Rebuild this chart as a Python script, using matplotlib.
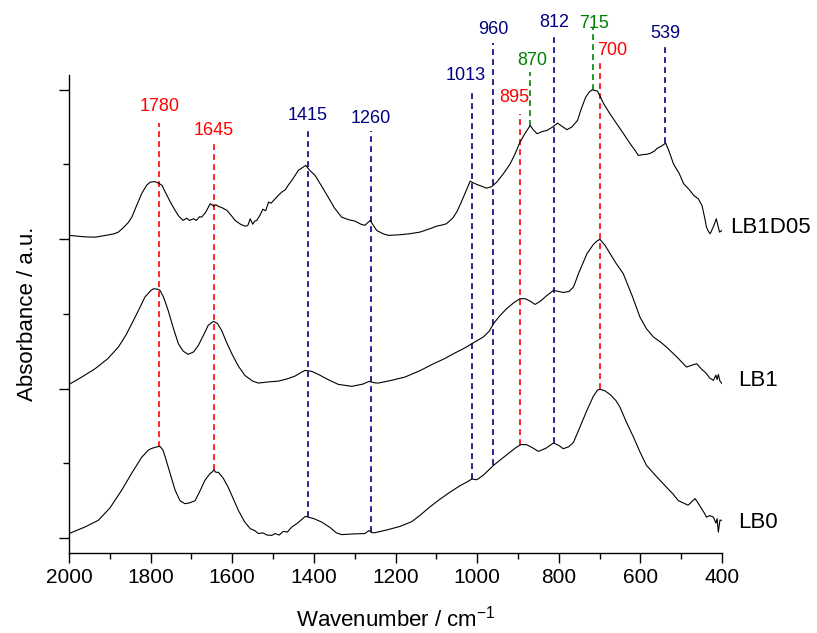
import numpy as np
import matplotlib
matplotlib.use("Agg")
import matplotlib.pyplot as plt
from matplotlib.ticker import MultipleLocator

plt.rcParams['font.family'] = ['Liberation Sans', 'DejaVu Sans']
plt.rcParams['mathtext.default'] = 'regular'
plt.rcParams['axes.unicode_minus'] = False

# ---------------- data (wavenumber cm^-1, absorbance a.u. incl. offset) ----------------
lb0_w = [2000, 1960, 1928, 1900, 1871, 1845, 1822, 1805, 1797, 1785, 1777, 1770, 1764, 1752,
         1740, 1728, 1716, 1705, 1691, 1680, 1667, 1655, 1650, 1645, 1640, 1634, 1622, 1610,
         1597, 1585, 1570, 1556, 1545, 1536, 1525, 1515, 1503, 1495, 1485, 1475, 1465, 1454,
         1440, 1421, 1400, 1381, 1360, 1345, 1332, 1300, 1275, 1265, 1258, 1250, 1220, 1189,
         1160, 1140, 1115, 1091, 1065, 1042, 1025, 1013, 1001, 985, 960, 940, 919, 905, 893,
         879, 865, 850, 832, 813, 800, 789, 776, 764, 750, 731, 715, 705, 699, 687, 674, 660,
         650, 635, 617, 600, 585, 560, 536, 520, 507, 495, 483, 466, 460, 450, 444, 438, 430,
         421, 415, 412, 409, 405, 400]
lb0_a = [0.030, 0.075, 0.119, 0.200, 0.320, 0.440, 0.540, 0.590, 0.600, 0.610, 0.613, 0.590,
         0.540, 0.430, 0.320, 0.250, 0.230, 0.235, 0.250, 0.310, 0.386, 0.430, 0.440, 0.455,
         0.440, 0.440, 0.400, 0.340, 0.260, 0.185, 0.110, 0.063, 0.050, 0.030, 0.035, 0.020,
         0.018, 0.030, 0.020, 0.045, 0.040, 0.074, 0.100, 0.145, 0.130, 0.107, 0.070, 0.035,
         0.023, 0.028, 0.030, 0.050, 0.036, 0.036, 0.055, 0.078, 0.110, 0.152, 0.210, 0.260,
         0.310, 0.350, 0.375, 0.395, 0.390, 0.420, 0.486, 0.530, 0.575, 0.605, 0.625, 0.625,
         0.605, 0.580, 0.600, 0.636, 0.620, 0.598, 0.610, 0.640, 0.730, 0.854, 0.950, 0.990,
         0.995, 0.985, 0.960, 0.920, 0.876, 0.780, 0.676, 0.570, 0.486, 0.410, 0.340, 0.295,
         0.250, 0.235, 0.220, 0.264, 0.240, 0.197, 0.170, 0.140, 0.150, 0.140, 0.100, 0.130,
         0.040, 0.120, 0.118]

lb1_w = [2000, 1970, 1936, 1905, 1879, 1860, 1838, 1825, 1814, 1800, 1793, 1783, 1777, 1768,
         1757, 1745, 1732, 1720, 1708, 1695, 1683, 1670, 1659, 1646, 1636, 1626, 1614, 1601,
         1585, 1569, 1550, 1536, 1510, 1487, 1465, 1446, 1430, 1421, 1405, 1389, 1365, 1340,
         1307, 1280, 1265, 1250, 1242, 1210, 1177, 1140, 1107, 1080, 1058, 1035, 1013, 985,
         970, 960, 945, 928, 910, 895, 882, 870, 858, 845, 829, 813, 800, 789, 775, 764, 750,
         731, 715, 705, 699, 687, 674, 660, 642, 620, 601, 585, 568, 550, 536, 510, 487, 470,
         462, 450, 438, 430, 421, 415, 412, 409, 405, 400]
lb1_a = [1.028, 1.075, 1.133, 1.200, 1.278, 1.360, 1.478, 1.550, 1.612, 1.655, 1.668, 1.665,
         1.657, 1.610, 1.523, 1.410, 1.300, 1.250, 1.229, 1.245, 1.289, 1.360, 1.423, 1.450,
         1.435, 1.389, 1.310, 1.233, 1.150, 1.088, 1.050, 1.037, 1.045, 1.050, 1.065, 1.084,
         1.110, 1.122, 1.115, 1.095, 1.060, 1.028, 1.015, 1.030, 1.048, 1.038, 1.037, 1.055,
         1.077, 1.120, 1.166, 1.200, 1.233, 1.265, 1.300, 1.345, 1.385, 1.434, 1.485, 1.534,
         1.575, 1.601, 1.601, 1.585, 1.563, 1.585, 1.623, 1.657, 1.650, 1.643, 1.650, 1.679,
         1.780, 1.902, 1.965, 1.990, 1.998, 1.960, 1.902, 1.840, 1.769, 1.620, 1.478, 1.400,
         1.345, 1.310, 1.278, 1.210, 1.144, 1.160, 1.166, 1.130, 1.100, 1.070, 1.055, 1.090,
         1.060, 1.095, 1.050, 1.033]

lb1d05_w = [2000, 1980, 1960, 1936, 1910, 1890, 1879, 1867, 1855, 1846, 1835, 1822, 1810, 1801,
            1790, 1781, 1772, 1764, 1752, 1740, 1730, 1720, 1712, 1705, 1695, 1688, 1680, 1675,
            1665, 1654, 1645, 1640, 1634, 1625, 1613, 1600, 1593, 1580, 1569, 1562, 1556, 1550,
            1545, 1540, 1532, 1525, 1518, 1511, 1505, 1495, 1488, 1479, 1470, 1463, 1454, 1445,
            1438, 1430, 1420, 1410, 1397, 1380, 1365, 1350, 1332, 1315, 1299, 1285, 1275, 1268,
            1262, 1255, 1246, 1230, 1217, 1190, 1165, 1140, 1115, 1099, 1085, 1075, 1060, 1050,
            1040, 1030, 1017, 1008, 1001, 990, 977, 965, 952, 935, 919, 907, 895, 882, 870, 862,
            853, 840, 829, 815, 803, 792, 780, 768, 754, 745, 734, 725, 718, 705, 698, 690, 675,
            658, 640, 625, 612, 605, 595, 585, 575, 565, 560, 550, 538, 530, 519, 505, 494, 480,
            469, 458, 449, 443, 438, 433, 429, 425, 420, 414, 410, 406, 400]
lb1d05_a = [2.025, 2.020, 2.015, 2.013, 2.025, 2.035, 2.047, 2.076, 2.110, 2.147, 2.220, 2.304,
            2.360, 2.381, 2.385, 2.375, 2.360, 2.314, 2.250, 2.192, 2.150, 2.125, 2.140, 2.125,
            2.136, 2.125, 2.150, 2.147, 2.180, 2.237, 2.220, 2.230, 2.219, 2.210, 2.192, 2.150,
            2.125, 2.100, 2.087, 2.090, 2.136, 2.100, 2.120, 2.125, 2.160, 2.200, 2.190, 2.248,
            2.240, 2.270, 2.290, 2.314, 2.330, 2.360, 2.393, 2.430, 2.460, 2.475, 2.493, 2.460,
            2.426, 2.350, 2.281, 2.210, 2.147, 2.130, 2.120, 2.100, 2.092, 2.110, 2.125, 2.095,
            2.058, 2.035, 2.025, 2.029, 2.036, 2.047, 2.070, 2.087, 2.095, 2.103, 2.140, 2.181,
            2.240, 2.304, 2.388, 2.375, 2.366, 2.355, 2.341, 2.350, 2.381, 2.440, 2.504, 2.570,
            2.649, 2.710, 2.760, 2.730, 2.705, 2.720, 2.727, 2.750, 2.776, 2.755, 2.732, 2.750,
            2.794, 2.870, 2.950, 2.985, 2.999, 2.990, 2.950, 2.906, 2.840, 2.772, 2.700, 2.638,
            2.590, 2.560, 2.565, 2.567, 2.575, 2.590, 2.605, 2.620, 2.642, 2.590, 2.504, 2.440,
            2.371, 2.330, 2.292, 2.270, 2.225, 2.150, 2.080, 2.050, 2.036, 2.060, 2.090, 2.136,
            2.090, 2.047, 2.058]

series_names = ["LB0", "LB1", "LB1D05"]

# marked bands
peak_pos = [1780, 1645, 1415, 1260, 1013, 960, 895, 870, 812, 715, 700, 539]
peak_labels = ["1780", "1645", "1415", "1260", "1013", "960", "895", "870", "812", "715", "700", "539"]
peak_group = ["r", "r", "b", "b", "b", "b", "r", "g", "b", "g", "r", "b"]
peak_ends_on = ["LB0", "LB0", "LB0", "LB0", "LB0", "LB0", "LB0", "LB1D05", "LB0", "LB1D05", "LB0", "LB1D05"]

# ---------------- layout / style ----------------
line_top = [2.78, 2.638, 2.732, 2.72, 2.983, 3.311, 2.838, 3.117, 3.38, 3.41, 3.195, 3.284]
label_y = [2.888, 2.727, 2.827, 2.805, 3.095, 3.401, 2.946, 3.195, 3.452, 3.445, 3.262, 3.374]
label_dx_px = [1, 0, 0, 0, -6, 0, -6, 2, 0, 1, 13, 0]
group_colors = {"r": "#FF0000", "b": "#000080", "g": "#008000"}

W, H = 817, 633
fig = plt.figure(figsize=(W / 100, H / 100), dpi=100)
ax = fig.add_axes([69 / W, (H - 553) / H, (722 - 69) / W, (553 - 75) / H])

spectra = {"LB0": (lb0_w, lb0_a), "LB1": (lb1_w, lb1_a), "LB1D05": (lb1d05_w, lb1d05_a)}

for name in series_names:
    w, a = spectra[name]
    ax.plot(w, a, color="black", lw=0.8, zorder=3)

for p, lab, g, end, top, ly, dx in zip(peak_pos, peak_labels, peak_group, peak_ends_on,
                                       line_top, label_y, label_dx_px):
    w, a = spectra[end]
    bottom = np.interp(p, w[::-1], a[::-1])
    c = group_colors[g]
    ax.plot([p, p], [bottom, top], color=c, lw=1.2, dashes=(3.5, 2.5), clip_on=False, zorder=2)
    ax.annotate(lab, xy=(p, ly), xytext=(dx, 0), textcoords="offset pixels",
                ha="center", va="center", color=c, fontsize=13, annotation_clip=False)

# curve labels
curve_label_pos = {"LB1D05": (380, 2.08), "LB1": (361, 1.055), "LB0": (361, 0.107)}
for name in series_names:
    x, y = curve_label_pos[name]
    ax.text(x, y, name, ha="left", va="center", fontsize=16, clip_on=False)

ax.set_xlim(2000, 400)
ax.set_ylim(-0.1, 3.098)
ax.xaxis.set_major_locator(MultipleLocator(200))
ax.xaxis.set_minor_locator(MultipleLocator(100))
ax.yaxis.set_major_locator(MultipleLocator(1))
ax.yaxis.set_minor_locator(MultipleLocator(0.5))
ax.set_yticklabels([])
ax.tick_params(axis="both", which="major", direction="out", length=7, width=1.0, labelsize=15)
ax.tick_params(axis="both", which="minor", direction="out", length=4, width=1.0)
for s in ["top", "right"]:
    ax.spines[s].set_visible(False)
for s in ["left", "bottom"]:
    ax.spines[s].set_linewidth(1.0)

ax.set_xlabel("Wavenumber / cm$^{-1}$", fontsize=16, labelpad=14)
ax.set_ylabel("Absorbance / a.u.", fontsize=16, labelpad=12)

fig.savefig("out.png", dpi=100)
